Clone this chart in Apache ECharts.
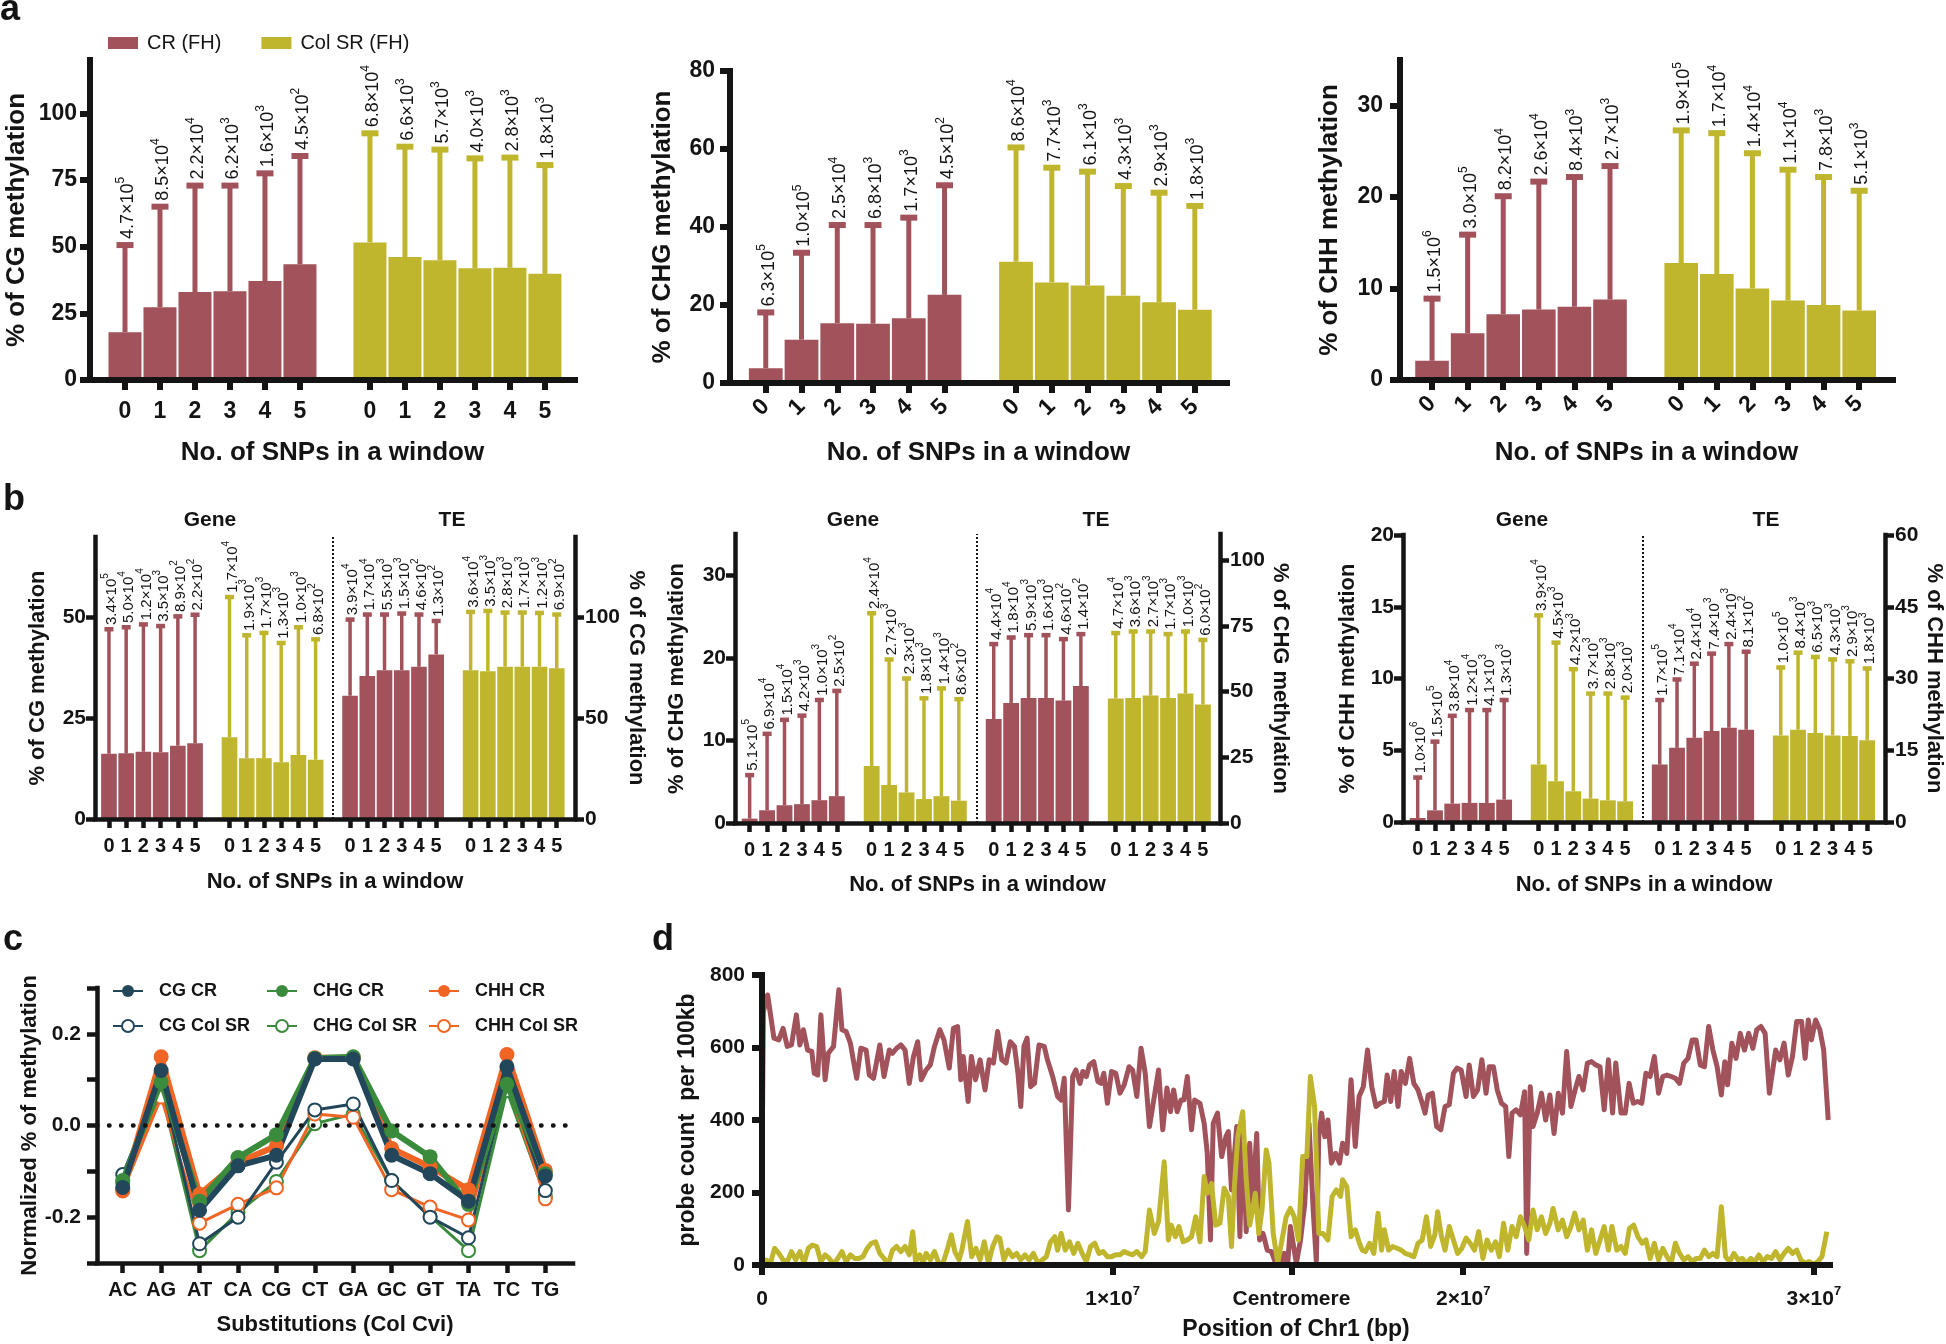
<!DOCTYPE html>
<html><head><meta charset="utf-8">
<script src="https://cdn.jsdelivr.net/npm/echarts@6/dist/echarts.min.js"></script>
<style>html,body{margin:0;padding:0;background:#fff}#c{width:1946px;height:1344px}</style>
</head><body><div id="c"></div>
<script>
// ================= DATA =================
// ---- panel a : % methylation by No. of SNPs (0..5), CR (FH) and Col SR (FH)
const snpLabels = ['0','1','2','3','4','5'];
const aCG_CR = [17.9, 27.3, 33.0, 33.3, 37.1, 43.4];
const aCG_CR_err = [50.6, 65.0, 72.9, 72.9, 77.5, 84.0];
const aCG_CR_n = ['4.7e5','8.5e4','2.2e4','6.2e3','1.6e3','4.5e2'];
const aCG_SR = [51.6, 46.1, 44.9, 41.9, 42.1, 39.8];
const aCG_SR_err = [92.5, 87.5, 86.4, 83.1, 83.4, 80.6];
const aCG_SR_n = ['6.8e4','6.6e3','5.7e3','4.0e3','2.8e3','1.8e3'];
const aCHG_CR = [3.8, 11.1, 15.35, 15.2, 16.6, 22.6];
const aCHG_CR_err = [18.1, 33.4, 40.5, 40.5, 42.4, 50.7];
const aCHG_CR_n = ['6.3e5','1.0e5','2.5e4','6.8e3','1.7e3','4.5e2'];
const aCHG_SR = [31.1, 25.8, 25.0, 22.4, 20.7, 18.8];
const aCHG_SR_err = [60.4, 55.2, 54.2, 50.5, 48.8, 45.4];
const aCHG_SR_n = ['8.6e4','7.7e3','6.1e3','4.3e3','2.9e3','1.8e3'];
const aCHH_CR = [2.1, 5.1, 7.2, 7.7, 8.0, 8.8];
const aCHH_CR_err = [8.9, 15.9, 20.1, 21.7, 22.2, 23.4];
const aCHH_CR_n = ['1.5e6','3.0e5','8.2e4','2.6e4','8.4e3','2.7e3'];
const aCHH_SR = [12.8, 11.6, 10.0, 8.7, 8.2, 7.6];
const aCHH_SR_err = [27.3, 27.0, 24.8, 23.0, 22.2, 20.7];
const aCHH_SR_n = ['1.9e5','1.7e4','1.4e4','1.1e4','7.8e3','5.1e3'];

// ---- panel b : Gene (left axis) and TE (right axis)
const bCG_geneCR = [16.2, 16.3, 16.7, 16.6, 18.2, 18.8];
const bCG_geneCR_err = [47.1, 47.6, 48.3, 47.9, 50.3, 50.7];
const bCG_geneCR_n = ['3.4e5','5.0e4','1.2e4','3.5e3','8.9e2','2.2e2'];
const bCG_geneSR = [20.3, 15.1, 15.1, 14.1, 15.9, 14.7];
const bCG_geneSR_err = [55.1, 45.6, 46.2, 43.7, 47.6, 44.6];
const bCG_geneSR_n = ['1.7e4','1.9e3','1.7e3','1.3e3','1.0e3','6.8e2'];
const bCG_teCR = [61.2, 71.0, 73.9, 73.9, 75.6, 81.7];
const bCG_teCR_err = [99.0, 101.5, 101.5, 102.0, 101.5, 98.3];
const bCG_teCR_n = ['3.9e4','1.7e4','5.5e3','1.5e3','4.6e2','1.3e2'];
const bCG_teSR = [73.9, 73.4, 75.6, 75.6, 75.6, 74.8];
const bCG_teSR_err = [102.8, 103.3, 102.5, 102.5, 102.3, 101.5];
const bCG_teSR_n = ['3.6e4','3.5e3','2.8e3','1.7e3','1.2e3','6.9e2'];

const bCHG_geneCR = [0.53, 1.54, 2.15, 2.28, 2.76, 3.25];
const bCHG_geneCR_err = [5.8, 10.8, 12.5, 13.0, 14.9, 16.0];
const bCHG_geneCR_n = ['5.1e5','6.9e4','1.5e4','4.2e3','1.0e3','2.5e2'];
const bCHG_geneSR = [6.9, 4.6, 3.7, 2.9, 3.25, 2.7];
const bCHG_geneSR_err = [25.4, 19.8, 17.5, 15.1, 16.3, 15.0];
const bCHG_geneSR_n = ['2.4e4','2.7e3','2.3e3','1.8e3','1.4e3','8.6e2'];
const bCHG_teCR = [39.6, 45.7, 47.6, 47.6, 46.6, 52.1];
const bCHG_teCR_err = [68.1, 70.6, 71.5, 71.5, 70.0, 71.9];
const bCHG_teCR_n = ['4.4e4','1.8e4','5.9e3','1.6e3','4.6e2','1.4e2'];
const bCHG_teSR = [47.4, 47.6, 48.5, 47.6, 49.3, 45.1];
const bCHG_teSR_err = [72.3, 72.9, 72.9, 71.9, 72.9, 69.7];
const bCHG_teSR_n = ['4.7e4','3.6e3','2.7e3','1.7e3','1.0e3','6.0e2'];

const bCHH_geneCR = [0.28, 0.81, 1.28, 1.33, 1.33, 1.56];
const bCHH_geneCR_err = [3.1, 5.6, 7.4, 7.8, 7.8, 8.5];
const bCHH_geneCR_n = ['1.0e6','1.5e5','3.8e4','1.2e4','4.1e3','1.3e3'];
const bCHH_geneSR = [4.0, 2.84, 2.14, 1.63, 1.51, 1.44];
const bCHH_geneSR_err = [14.4, 12.5, 10.65, 8.95, 8.95, 8.67];
const bCHH_geneSR_n = ['3.9e4','4.5e3','4.2e3','3.7e3','2.8e3','2.0e3'];
const bCHH_teCR = [12.0, 15.5, 17.6, 19.0, 19.7, 19.3];
const bCHH_teCR_err = [25.5, 29.8, 33.1, 35.2, 37.2, 35.6];
const bCHH_teCR_n = ['1.7e5','7.1e4','2.4e4','7.4e3','2.4e3','8.1e2'];
const bCHH_teSR = [18.1, 19.3, 18.6, 18.1, 18.0, 17.1];
const bCHH_teSR_err = [32.3, 35.4, 34.5, 34.0, 33.6, 32.1];
const bCHH_teSR_n = ['1.0e5','8.4e3','6.5e3','4.3e3','2.9e3','1.8e3'];

// ---- panel c : normalized % methylation by substitution
const subs = ['AC','AG','AT','CA','CG','CT','GA','GC','GT','TA','TC','TG'];
const cCG_CR   = [-0.135, 0.120, -0.185, -0.088, -0.065, 0.145, 0.145, -0.065, -0.105, -0.165, 0.128, -0.110];
const cCHG_CR  = [-0.120, 0.095, -0.165, -0.070, -0.020, 0.147, 0.150, -0.012, -0.068, -0.172, 0.090, -0.105];
const cCHH_CR  = [-0.140, 0.150, -0.150, -0.080, -0.045, 0.148, 0.148, -0.050, -0.090, -0.140, 0.155, -0.098];
const cCG_SR   = [-0.107, 0.100, -0.258, -0.200, -0.080, 0.034, 0.047, -0.120, -0.200, -0.245, 0.100, -0.142];
const cCHG_SR  = [-0.125, 0.075, -0.273, -0.190, -0.122, 0.004, 0.025, -0.120, -0.198, -0.273, 0.076, -0.155];
const cCHH_SR  = [-0.143, 0.062, -0.213, -0.172, -0.136, 0.025, 0.018, -0.140, -0.178, -0.206, 0.095, -0.160];
const cYTicks = [-0.3,-0.2,-0.1,0,0.1,0.2,0.3];
const cYLabels = [-0.2, 0, 0.2];

// ---- panel d : probe count per 100kb along Chr1, [position (Mb), count]
const dCR = [[0.00,262],[0.04,699],[0.16,745],[0.34,626],[0.48,621],[0.60,653],[0.72,603],[0.84,607],[0.98,690],[1.08,607],[1.18,649],[1.30,593],[1.42,589],[1.49,529],[1.59,524],[1.68,690],[1.80,511],[1.89,584],[2.04,603],[2.19,759],[2.28,649],[2.40,644],[2.52,612],[2.62,557],[2.70,515],[2.82,598],[2.97,593],[3.06,524],[3.18,515],[3.36,607],[3.48,520],[3.63,593],[3.72,584],[3.84,598],[3.96,607],[4.08,593],[4.20,501],[4.32,575],[4.44,616],[4.54,511],[4.68,538],[4.80,552],[4.92,603],[5.07,649],[5.19,621],[5.34,543],[5.46,653],[5.58,658],[5.67,511],[5.74,575],[5.88,451],[5.97,575],[6.09,511],[6.22,566],[6.36,483],[6.48,566],[6.60,557],[6.72,644],[6.84,566],[6.96,557],[7.08,616],[7.20,603],[7.30,529],[7.38,437],[7.47,603],[7.56,626],[7.66,492],[7.77,501],[7.90,607],[8.05,603],[8.14,566],[8.29,520],[8.43,465],[8.53,455],[8.62,515],[8.74,152],[8.86,520],[8.95,538],[9.07,501],[9.15,534],[9.25,520],[9.34,552],[9.46,561],[9.58,506],[9.67,501],[9.75,529],[9.85,446],[9.97,534],[10.09,529],[10.21,474],[10.33,497],[10.47,547],[10.57,538],[10.69,465],[10.81,598],[10.93,529],[11.05,382],[11.19,465],[11.31,538],[11.43,373],[11.55,488],[11.65,423],[11.74,483],[11.84,423],[11.95,455],[12.03,455],[12.13,520],[12.25,373],[12.34,455],[12.49,446],[12.61,391],[12.70,308],[12.79,69],[12.87,391],[12.99,419],[13.11,299],[13.23,354],[13.30,368],[13.39,207],[13.54,382],[13.63,78],[13.71,400],[13.81,92],[13.91,336],[13.99,170],[14.11,363],[14.19,69],[14.29,87],[14.41,41],[14.53,37],[14.65,5],[14.79,5],[14.89,32],[14.99,0],[15.07,106],[15.24,5],[15.36,69],[15.48,170],[15.60,391],[15.72,152],[15.81,9],[15.88,354],[15.96,419],[16.05,354],[16.14,400],[16.24,281],[16.36,308],[16.47,281],[16.56,336],[16.68,308],[16.80,511],[16.92,327],[17.03,465],[17.15,492],[17.27,593],[17.39,492],[17.51,437],[17.63,446],[17.75,451],[17.83,524],[17.93,451],[18.03,534],[18.14,437],[18.23,534],[18.35,501],[18.47,570],[18.59,501],[18.71,483],[18.83,446],[18.91,419],[19.00,469],[19.12,474],[19.24,382],[19.36,373],[19.48,437],[19.60,442],[19.72,529],[19.82,543],[19.94,538],[20.08,465],[20.17,552],[20.29,465],[20.41,483],[20.53,566],[20.65,474],[20.74,547],[20.86,547],[20.97,483],[21.09,446],[21.21,437],[21.30,299],[21.39,419],[21.51,428],[21.63,414],[21.75,478],[21.81,32],[21.91,492],[21.99,382],[22.11,419],[22.23,474],[22.35,400],[22.47,469],[22.59,363],[22.71,474],[22.83,419],[22.95,589],[23.07,437],[23.19,483],[23.30,520],[23.42,483],[23.54,557],[23.66,561],[23.78,552],[23.90,547],[24.02,428],[24.14,566],[24.26,419],[24.35,557],[24.50,419],[24.62,419],[24.73,501],[24.85,446],[24.97,451],[25.09,446],[25.21,529],[25.33,520],[25.45,575],[25.57,474],[25.69,520],[25.81,524],[25.93,520],[26.05,515],[26.17,501],[26.29,557],[26.41,570],[26.53,621],[26.64,621],[26.76,552],[26.88,547],[27.00,658],[27.12,593],[27.24,547],[27.36,469],[27.46,561],[27.54,497],[27.66,612],[27.78,570],[27.90,639],[28.02,593],[28.14,639],[28.26,598],[28.37,649],[28.49,658],[28.61,639],[28.73,474],[28.91,593],[29.03,566],[29.15,612],[29.27,524],[29.39,575],[29.51,672],[29.65,672],[29.75,570],[29.84,676],[29.93,621],[30.05,676],[30.17,649],[30.28,593],[30.41,400]];
const dSR = [[0.00,9],[0.12,14],[0.24,5],[0.36,46],[0.48,32],[0.60,14],[0.72,9],[0.84,37],[0.96,14],[1.08,37],[1.20,5],[1.32,46],[1.44,55],[1.56,51],[1.68,9],[1.80,28],[1.92,18],[2.04,2],[2.16,18],[2.28,37],[2.40,9],[2.52,28],[2.64,18],[2.76,18],[2.88,23],[3.00,46],[3.12,60],[3.24,64],[3.36,32],[3.48,18],[3.60,2],[3.72,41],[3.84,51],[3.96,37],[4.08,51],[4.20,28],[4.30,92],[4.38,9],[4.50,28],[4.59,5],[4.68,32],[4.80,14],[4.92,37],[5.04,5],[5.16,5],[5.28,41],[5.40,83],[5.50,37],[5.62,14],[5.70,41],[5.86,120],[5.98,23],[6.10,46],[6.22,14],[6.34,64],[6.46,5],[6.58,51],[6.70,78],[6.78,74],[6.90,14],[7.02,41],[7.14,23],[7.26,32],[7.38,14],[7.50,28],[7.62,14],[7.74,32],[7.87,5],[7.99,14],[8.11,23],[8.23,64],[8.35,78],[8.43,41],[8.53,87],[8.65,41],[8.77,64],[8.89,32],[9.01,60],[9.13,32],[9.25,9],[9.37,51],[9.49,60],[9.61,32],[9.73,37],[9.85,23],[9.97,23],[10.09,28],[10.21,28],[10.33,37],[10.45,32],[10.57,28],[10.69,37],[10.83,23],[10.93,37],[11.05,152],[11.19,87],[11.31,120],[11.47,285],[11.59,69],[11.67,110],[11.79,78],[11.89,106],[12.01,64],[12.13,69],[12.25,78],[12.37,133],[12.49,64],[12.61,244],[12.70,198],[12.82,225],[12.94,110],[13.06,115],[13.18,212],[13.30,189],[13.39,51],[13.47,212],[13.57,354],[13.71,423],[13.81,235],[13.91,110],[13.99,152],[14.07,198],[14.17,87],[14.26,152],[14.38,317],[14.46,281],[14.58,87],[14.71,5],[14.83,69],[14.95,133],[15.07,156],[15.18,133],[15.30,69],[15.42,299],[15.54,299],[15.64,520],[15.76,437],[15.88,87],[16.00,87],[16.14,69],[16.26,189],[16.38,207],[16.50,189],[16.56,235],[16.68,216],[16.80,78],[16.92,97],[17.04,60],[17.12,41],[17.21,37],[17.33,60],[17.45,32],[17.57,143],[17.67,41],[17.75,97],[17.87,41],[17.99,51],[18.11,46],[18.23,41],[18.35,32],[18.47,28],[18.59,23],[18.71,60],[18.83,69],[18.95,133],[19.07,51],[19.19,83],[19.27,147],[19.37,83],[19.48,41],[19.60,106],[19.72,69],[19.84,32],[19.96,46],[20.08,74],[20.20,60],[20.32,41],[20.44,92],[20.56,18],[20.68,69],[20.80,41],[20.92,64],[21.03,23],[21.15,115],[21.27,41],[21.39,106],[21.51,78],[21.63,133],[21.75,106],[21.87,69],[21.99,152],[22.11,97],[22.23,133],[22.35,87],[22.47,115],[22.56,156],[22.71,97],[22.83,124],[22.95,78],[23.07,106],[23.18,143],[23.30,97],[23.42,124],[23.54,41],[23.66,97],[23.78,32],[23.90,69],[24.02,106],[24.14,41],[24.24,106],[24.38,41],[24.50,51],[24.62,32],[24.74,101],[24.86,110],[24.98,78],[25.10,60],[25.21,69],[25.33,18],[25.45,60],[25.57,14],[25.69,46],[25.81,23],[25.93,5],[26.05,60],[26.17,32],[26.29,14],[26.41,23],[26.53,9],[26.64,18],[26.76,18],[26.88,41],[27.00,23],[27.12,32],[27.24,23],[27.36,161],[27.48,23],[27.60,9],[27.72,32],[27.84,14],[27.96,18],[28.08,5],[28.20,18],[28.32,9],[28.43,28],[28.55,9],[28.67,23],[28.79,18],[28.91,37],[29.03,14],[29.15,32],[29.27,46],[29.39,32],[29.51,41],[29.63,14],[29.75,5],[29.87,9],[29.99,2],[30.11,9],[30.23,23],[30.37,92]];
const dXTicks = [0, 1e7, 1.51e7, 2e7, 3e7];
const dXTickLabels = ['0', '1×10^7', 'Centromere', '2×10^7', '3×10^7'];
const dYTicks = [0, 200, 400, 600, 800];

// ================= STYLE / BUILD =================
const FONT = '"Liberation Sans", Arial, Helvetica, sans-serif';
const INK = '#141414';
const RED = '#a1525a';
const YEL = '#bfb62d';
const CG_C = '#22475b', CHG_C = '#3b8b3c', CHH_C = '#f06424';

const option = {animation:false, backgroundColor:'#fff', grid:[], xAxis:[], yAxis:[], series:[], legend:[], graphic:[]};

function txt(fs, bold, fam){ return {fontSize:fs, fontWeight: bold?'bold':'normal', fontFamily: fam||FONT, color:INK}; }
function sciText(s){ const p = s.split('e'); return '{m|' + p[0] + '×10}{e|' + p[1] + '}'; }
function sciRich(fs, sfs, bold){
  return { m:{fontSize:fs, fontFamily:FONT, fontWeight: bold?'bold':'normal', color:INK, lineHeight:fs+4, verticalAlign:'bottom'},
           e:{fontSize:sfs, fontFamily:FONT, fontWeight: bold?'bold':'normal', color:INK, lineHeight:sfs, verticalAlign:'top'} };
}

function errRender(labels, color, st){
  return function(params, api){
    const x = api.value(0), e = api.value(1), v = api.value(2);
    const pt = api.coord([x, e]), pb = api.coord([x, v]);
    return {type:'group', children:[
      {type:'rect', shape:{x:pt[0]-st.lw/2, y:pt[1], width:st.lw, height:Math.max(0, pb[1]-pt[1])}, style:{fill:color}},
      {type:'rect', shape:{x:pt[0]-st.cw/2, y:pt[1]-st.ch/2, width:st.cw, height:st.ch}, style:{fill:color}},
      {type:'text', x:pt[0]+st.dx, y:pt[1]-st.ch/2-st.gap, rotation:Math.PI/2,
       style:{text:sciText(labels[params.dataIndex]), rich:sciRich(st.fs, st.sfs, false), align:'left', verticalAlign:'middle', fill:INK}}
    ]};
  };
}

function addBarGroup(xi, yi, name, pos, vals, errs, labels, color, bw, st, extra){
  const bar = {type:'bar', name:name, xAxisIndex:xi, yAxisIndex:yi, silent:true, z:2,
    data: pos.map((p,i)=>[p, vals[i]]), barWidth:bw, barGap:'-100%', itemStyle:{color:color}};
  if (extra) Object.assign(bar, extra);
  option.series.push(bar);
  option.series.push({type:'custom', xAxisIndex:xi, yAxisIndex:yi, silent:true, z:3,
    data: pos.map((p,i)=>[p, errs[i], vals[i]]), renderItem: errRender(labels, color, st)});
}

function xAxisCfg(gi, c){
  return {type:'value', gridIndex:gi, min:c.min, max:c.max, z:10,
    axisLine:{show:true, onZero:false, lineStyle:{color:INK, width:c.lw, cap:'square'}},
    axisTick:{show:true, customValues:c.ticks, length:c.tl, lineStyle:{color:INK, width:c.lw}},
    axisLabel:{show:true, customValues:c.labels||c.ticks, formatter:c.fmt, margin:c.margin, rotate:c.rotate||0,
      ...txt(c.fs, true, c.fam), rich:c.rich},
    splitLine:{show:false},
    name:c.name||'', nameLocation:'middle', nameGap:c.nameGap||0, nameTextStyle:txt(c.nfs||20, true)};
}
function yAxisCfg(gi, c){
  return {type:'value', gridIndex:gi, min:c.min, max:c.max, position:c.position||'left', z:10,
    axisLine:{show:true, onZero:false, lineStyle:{color:INK, width:c.lw, cap:'square'}},
    axisTick:{show:true, customValues:c.ticks, length:c.tl, lineStyle:{color:INK, width:c.lw}},
    axisLabel:{show:true, customValues:c.labels||c.ticks, formatter:c.fmt, margin:c.margin, ...txt(c.fs, true, c.fam)},
    splitLine:{show:false},
    name:c.name||'', nameLocation:'middle', nameGap:c.nameGap||0, nameRotate:c.nameRotate==null?90:c.nameRotate,
    nameTextStyle:txt(c.nfs||20, true)};
}

// ---------- panel a ----------
const posCR = [0,1,2,3,4,5], posSR = [7,8,9,10,11,12];
const aTickPos = posCR.concat(posSR);
const snpFmt = v => snpLabels[Math.round(v) % 7];
const aPanels = [
  {grid:{left:90, top:60, width:485, height:320}, xmin:-1, xmax:12.86, ymax:120, yticks:[0,25,50,75,100], rot:0, xmargin:20,
   yname:'% of CG methylation', ynameGap:60, xnameGap:60, ymargin:13,
   cr:[aCG_CR,aCG_CR_err,aCG_CR_n], sr:[aCG_SR,aCG_SR_err,aCG_SR_n]},
  {grid:{left:730, top:71, width:497, height:312}, xmin:-1, xmax:12.9, ymax:80, yticks:[0,20,40,60,80], rot:45, xmargin:16,
   yname:'% of CHG methylation', ynameGap:54, xnameGap:57, ymargin:15,
   cr:[aCHG_CR,aCHG_CR_err,aCHG_CR_n], sr:[aCHG_SR,aCHG_SR_err,aCHG_SR_n]},
  {grid:{left:1400, top:60, width:493, height:320}, xmin:-0.9, xmax:12.95, ymax:35, yticks:[0,10,20,30], rot:45, xmargin:16,
   yname:'% of CHH methylation', ynameGap:57, xnameGap:60, ymargin:17,
   cr:[aCHH_CR,aCHH_CR_err,aCHH_CR_n], sr:[aCHH_SR,aCHH_SR_err,aCHH_SR_n]}
];
const aErr = {lw:5, cw:17, ch:6, fs:18, sfs:12, gap:3, dx:1};
aPanels.forEach(p => {
  option.grid.push(p.grid); const gi = option.grid.length-1;
  option.xAxis.push(xAxisCfg(gi, {min:p.xmin, max:p.xmax, lw:6, tl:10, ticks:aTickPos, fmt:snpFmt, margin:20,
    rotate:p.rot, fs:23, name:'No. of SNPs in a window', nameGap:p.xnameGap, nfs:26}));
  const xi = option.xAxis.length-1;
  option.yAxis.push(yAxisCfg(gi, {min:0, max:p.ymax, lw:6, tl:10, ticks:p.yticks, margin:p.ymargin, fs:23,
    name:p.yname, nameGap:p.ynameGap, nfs:26}));
  const yi = option.yAxis.length-1;
  const bw = p.grid.width/(p.xmax-p.xmin) - 2;
  addBarGroup(xi, yi, 'CR (FH)', posCR, p.cr[0], p.cr[1], p.cr[2], RED, bw, aErr);
  addBarGroup(xi, yi, 'Col SR (FH)', posSR, p.sr[0], p.sr[1], p.sr[2], YEL, bw, aErr);
});
option.legend.push({left:103, top:28, itemWidth:30, itemHeight:12, icon:'rect', itemGap:40, selectedMode:false,
  data:['CR (FH)','Col SR (FH)'], textStyle:{...txt(20,false), padding:[0,0,0,4]}});

// ---------- panel b ----------
const bPos = {gCR:[0,1,2,3,4,5], gSR:[7,8,9,10,11,12], tCR:[14,15,16,17,18,19], tSR:[21,22,23,24,25,26]};
const bTickPos = bPos.gCR.concat(bPos.gSR, bPos.tCR, bPos.tSR);
const bPanels = [
  {grid:{left:95, top:537, width:480, height:282}, xmin:-0.81, xmax:27.06, lmax:70, lticks:[0,25,50], rmax:140, rticks:[0,50,100],
   yname:'% of CG methylation', lgap:46, rgap:50, xgap:52, titles:[210,452],
   d:[[bCG_geneCR,bCG_geneCR_err,bCG_geneCR_n],[bCG_geneSR,bCG_geneSR_err,bCG_geneSR_n],[bCG_teCR,bCG_teCR_err,bCG_teCR_n],[bCG_teSR,bCG_teSR_err,bCG_teSR_n]]},
  {grid:{left:735, top:534, width:485, height:289}, xmin:-0.84, xmax:26.98, lmax:35, lticks:[0,10,20,30], rmax:110, rticks:[0,25,50,75,100],
   yname:'% of CHG methylation', lgap:47, rgap:46, xgap:51, titles:[853,1096],
   d:[[bCHG_geneCR,bCHG_geneCR_err,bCHG_geneCR_n],[bCHG_geneSR,bCHG_geneSR_err,bCHG_geneSR_n],[bCHG_teCR,bCHG_teCR_err,bCHG_teCR_n],[bCHG_teSR,bCHG_teSR_err,bCHG_teSR_n]]},
  {grid:{left:1403, top:535, width:486, height:287}, xmin:-0.85, xmax:27.03, lmax:20, lticks:[0,5,10,15,20], rmax:60, rticks:[0,15,30,45,60],
   yname:'% of CHH methylation', lgap:44, rgap:38, xgap:52, titles:[1522,1766],
   d:[[bCHH_geneCR,bCHH_geneCR_err,bCHH_geneCR_n],[bCHH_geneSR,bCHH_geneSR_err,bCHH_geneSR_n],[bCHH_teCR,bCHH_teCR_err,bCHH_teCR_n],[bCHH_teSR,bCHH_teSR_err,bCHH_teSR_n]]}
];
const bErr = {lw:3.5, cw:9, ch:4.5, fs:15, sfs:10, gap:2, dx:1};
bPanels.forEach(p => {
  option.grid.push(p.grid); const gi = option.grid.length-1;
  option.xAxis.push(xAxisCfg(gi, {min:p.xmin, max:p.xmax, lw:4.5, tl:9, ticks:bTickPos, fmt:snpFmt, margin:17, fs:20,
    name:'No. of SNPs in a window', nameGap:p.xgap, nfs:22}));
  const xi = option.xAxis.length-1;
  option.yAxis.push(yAxisCfg(gi, {min:0, max:p.lmax, lw:4.5, tl:9, ticks:p.lticks, margin:9, fs:21, name:p.yname, nameGap:p.lgap, nfs:22}));
  const yl = option.yAxis.length-1;
  option.yAxis.push(yAxisCfg(gi, {min:0, max:p.rmax, position:'right', lw:4.5, tl:9, ticks:p.rticks, margin:10, fs:21,
    name:p.yname, nameGap:p.rgap, nfs:22, nameRotate:-90}));
  const yr = option.yAxis.length-1;
  const bw = p.grid.width/(p.xmax-p.xmin) - 1.6;
  addBarGroup(xi, yl, 'CR (FH)', bPos.gCR, p.d[0][0], p.d[0][1], p.d[0][2], RED, bw, bErr,
    {markLine:{silent:true, symbol:'none', label:{show:false}, animation:false,
      lineStyle:{type:[2,2], width:2, color:INK}, data:[{xAxis:13}]}});
  addBarGroup(xi, yl, 'Col SR (FH)', bPos.gSR, p.d[1][0], p.d[1][1], p.d[1][2], YEL, bw, bErr);
  addBarGroup(xi, yr, 'CR (FH)', bPos.tCR, p.d[2][0], p.d[2][1], p.d[2][2], RED, bw, bErr);
  addBarGroup(xi, yr, 'Col SR (FH)', bPos.tSR, p.d[3][0], p.d[3][1], p.d[3][2], YEL, bw, bErr);
  option.graphic.push({type:'text', x:p.titles[0], y:520, style:{text:'Gene', ...txt(21,true), fill:INK, align:'center', verticalAlign:'middle'}});
  option.graphic.push({type:'text', x:p.titles[1], y:520, style:{text:'TE', ...txt(21,true), fill:INK, align:'center', verticalAlign:'middle'}});
});

// ---------- panel c ----------
(function(){
  option.grid.push({left:97, top:988, width:476, height:275}); const gi = option.grid.length-1;
  const subPos = subs.map((s,i)=>i);
  option.xAxis.push(xAxisCfg(gi, {min:-0.67, max:11.72, lw:4.5, tl:10, ticks:subPos, fmt:v=>subs[Math.round(v)], margin:17, fs:20,
    name:'Substitutions (Col Cvi)', nameGap:51, nfs:22}));
  const xi = option.xAxis.length-1;
  option.yAxis.push(yAxisCfg(gi, {min:-0.3, max:0.3, lw:4.5, tl:10, ticks:cYTicks, labels:cYLabels, fmt:v=>v.toFixed(1), margin:16, fs:21,
    name:'Normalized % of methylation', nameGap:56, nfs:22}));
  const yi = option.yAxis.length-1;
  function line(name, vals, color, cr, extra){
    const s = {type:'line', name:name, xAxisIndex:xi, yAxisIndex:yi, silent:true,
      data: vals.map((v,i)=>[i, v]),
      symbol: cr ? 'circle' : 'emptyCircle', symbolSize: cr ? 15 : 13,
      lineStyle:{width: cr ? 6 : 3, color:color},
      itemStyle:{color:color, borderWidth: cr ? 0 : 2.8, borderColor:color}, z: cr ? 4 : 3};
    if (extra) Object.assign(s, extra);
    option.series.push(s);
  }
  line('CHG Col SR', cCHG_SR, CHG_C, false, {markLine:{silent:true, symbol:'none', label:{show:false}, animation:false,
    lineStyle:{type:[0.5, 11.5], cap:'round', width:4.5, color:INK}, data:[{yAxis:0}]}});
  line('CHH Col SR', cCHH_SR, CHH_C, false);
  line('CG Col SR', cCG_SR, CG_C, false);
  line('CHH CR', cCHH_CR, CHH_C, true);
  line('CHG CR', cCHG_CR, CHG_C, true);
  line('CG CR', cCG_CR, CG_C, true);
  const lg = (left, names) => ({orient:'vertical', left:left, top:977, itemGap:17, itemWidth:30, itemHeight:15, selectedMode:false,
    data:names, textStyle:{...txt(18,true), padding:[0,0,0,11]}});
  option.legend.push(lg(107, ['CG CR','CG Col SR']));
  option.legend.push(lg(261, ['CHG CR','CHG Col SR']));
  option.legend.push(lg(423, ['CHH CR','CHH Col SR']));
})();

// ---------- panel d ----------
(function(){
  option.grid.push({left:762, top:975, width:1068, height:290}); const gi = option.grid.length-1;
  const dFmt = v => {
    let i = dXTicks.findIndex(t => Math.abs(t - v) < 1);
    const s = dXTickLabels[i < 0 ? 0 : i];
    if (s.indexOf('^') >= 0) { const p = s.split('^'); return '{m|' + p[0] + '}{e|' + p[1] + '}'; }
    return '{m|' + s + '}';
  };
  option.xAxis.push(xAxisCfg(gi, {min:0, max:30.46e6, lw:6, tl:10, ticks:dXTicks, fmt:dFmt, margin:20, fs:21,
    rich:sciRich(21, 13, true), name:'Position of Chr1 (bp)', nameGap:53, nfs:23}));
  const xi = option.xAxis.length-1;
  option.yAxis.push(yAxisCfg(gi, {min:0, max:800, lw:6, tl:10, ticks:dYTicks, margin:17, fs:21,
    name:'probe count  per 100kb', nameGap:62, nfs:23}));
  const yi = option.yAxis.length-1;
  option.series.push({type:'line', name:'Chr1 CR', xAxisIndex:xi, yAxisIndex:yi, silent:true, symbol:'none',
    data: dCR.map(d => [d[0]*1e6, d[1]]), lineStyle:{width:5, color:RED, join:'round'}, z:3});
  option.series.push({type:'line', name:'Chr1 Col SR', xAxisIndex:xi, yAxisIndex:yi, silent:true, symbol:'none',
    data: dSR.map(d => [d[0]*1e6, d[1]]), lineStyle:{width:5, color:YEL, join:'round'}, z:4});
})();

// ---------- panel letters ----------
[['a',0,10],['b',3,500],['c',3,940],['d',652,940]].forEach(l => {
  option.graphic.push({type:'text', x:l[1], y:l[2], style:{text:l[0], ...txt(36,true), fill:INK, align:'left', verticalAlign:'middle'}});
});

const chart = echarts.init(document.getElementById('c'), null, {renderer:'canvas', width:1946, height:1344});
chart.setOption(option);
</script>
</body></html>
